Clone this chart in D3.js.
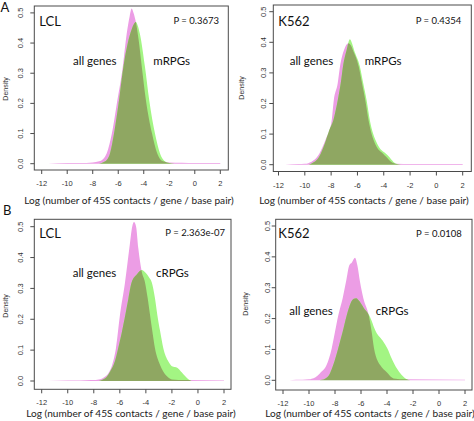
<!DOCTYPE html>
<html><head><meta charset="utf-8">
<script src="https://cdn.jsdelivr.net/npm/d3@7"></script>
<style>
html,body{margin:0;padding:0;background:#fff;}
svg{display:block;}
</style></head>
<body>
<svg id="chart" width="474" height="421"></svg>
<script>
// ---------- DATA ----------
const panelLetters = ["A", "B"];
const cellLines = ["LCL", "K562", "LCL", "K562"];
const pValues = ["P = 0.3673", "P = 0.4354", "P = 2.363e-07", "P = 0.0108"];
const rpgLabels = ["mRPGs", "mRPGs", "cRPGs", "cRPGs"];
const allGenesLabel = "all genes";
const xTicks = [-12, -10, -8, -6, -4, -2, 0, 2];
const yTicks = [0, 0.1, 0.2, 0.3, 0.4, 0.5];
const yTickLabels = ["0.0", "0.1", "0.2", "0.3", "0.4", "0.5"];
const xTitle = "Log (number of 45S contacts / gene / base pair)";
const yTitle = "Density";

// density curves [log value, density]
const allGenesLCL_A = [[-11.5,0],[-10,0.002],[-9,0.002],[-8,0.004],[-7.5,0.008],[-7.2,0.015],[-6.9,0.035],[-6.5,0.10],[-6.07,0.21],[-5.65,0.32],[-5.34,0.43],[-5.1,0.49],[-4.95,0.515],[-4.8,0.50],[-4.62,0.47],[-4.4,0.41],[-4.15,0.32],[-3.83,0.21],[-3.35,0.10],[-2.95,0.035],[-2.5,0.008],[-2,0.004],[-1,0.003],[0,0.002],[2,0.002]];
const mRPGsLCL = [[-7.5,0],[-7.2,0.004],[-6.9,0.012],[-6.64,0.035],[-6.33,0.10],[-5.94,0.21],[-5.6,0.32],[-5.25,0.40],[-4.95,0.445],[-4.75,0.465],[-4.61,0.47],[-4.45,0.455],[-4.3,0.43],[-3.9,0.32],[-3.57,0.21],[-3.12,0.10],[-2.73,0.035],[-2.4,0.01],[-2.0,0.002],[-1.6,0]];
const allGenesK562_A = [[-11.5,0],[-10.5,0.002],[-10,0.003],[-9.73,0.005],[-9.3,0.015],[-8.9,0.036],[-8.44,0.08],[-8.14,0.113],[-7.96,0.144],[-7.8,0.21],[-7.5,0.266],[-7.33,0.32],[-7.02,0.375],[-6.69,0.397],[-6.5,0.39],[-6.35,0.375],[-5.9,0.32],[-5.65,0.266],[-5.4,0.21],[-5.15,0.144],[-4.92,0.10],[-4.65,0.068],[-4.35,0.047],[-4.05,0.036],[-3.8,0.025],[-3.45,0.01],[-3.0,0.003],[-2,0.002],[2,0.002]];
const mRPGsK562 = [[-9.7,0],[-9.48,0.004],[-9.1,0.015],[-8.79,0.036],[-8.39,0.08],[-8.14,0.113],[-7.84,0.144],[-7.5,0.21],[-7.27,0.266],[-7.1,0.32],[-6.82,0.375],[-6.57,0.41],[-6.4,0.395],[-6.26,0.375],[-5.81,0.32],[-5.56,0.266],[-5.3,0.21],[-5.05,0.144],[-4.8,0.10],[-4.49,0.068],[-4.16,0.047],[-3.83,0.036],[-3.58,0.025],[-3.28,0.01],[-3.0,0.002],[-2.7,0]];
const allGenesLCL_B = [[-11.5,0],[-10,0.002],[-9,0.002],[-8.2,0.003],[-7.5,0.006],[-7.2,0.012],[-6.88,0.025],[-6.6,0.05],[-6.3,0.106],[-5.99,0.214],[-5.6,0.32],[-5.27,0.43],[-5.05,0.50],[-4.91,0.515],[-4.75,0.50],[-4.58,0.43],[-4.32,0.355],[-4.07,0.32],[-3.86,0.268],[-3.68,0.214],[-3.5,0.16],[-3.3,0.106],[-2.91,0.052],[-2.4,0.016],[-2.0,0.005],[-1,0.003],[2,0.002]];
const cRPGsLCL = [[-7.6,0],[-7.3,0.005],[-7.0,0.014],[-6.75,0.03],[-6.37,0.065],[-6.05,0.12],[-5.86,0.155],[-5.58,0.214],[-5.35,0.265],[-5.09,0.32],[-4.7,0.345],[-4.32,0.36],[-4.0,0.35],[-3.75,0.335],[-3.55,0.32],[-3.3,0.268],[-3.12,0.214],[-2.9,0.16],[-2.66,0.106],[-2.27,0.063],[-2.0,0.048],[-1.76,0.045],[-1.5,0.04],[-1.25,0.028],[-0.99,0.016],[-0.74,0.006],[-0.5,0]];
const allGenesK562_B = [[-11.5,0],[-11,0.002],[-10.5,0.002],[-10,0.003],[-9.8,0.005],[-9.5,0.01],[-9.15,0.023],[-8.64,0.05],[-8.25,0.104],[-8.0,0.157],[-7.75,0.21],[-7.41,0.266],[-7.15,0.32],[-6.9,0.373],[-6.7,0.382],[-6.46,0.397],[-6.28,0.373],[-6.08,0.32],[-5.82,0.266],[-5.4,0.21],[-5.18,0.157],[-5.0,0.104],[-4.75,0.066],[-4.54,0.05],[-4.0,0.025],[-3.5,0.006],[-2.5,0.003],[2,0.002]];
const cRPGsK562 = [[-9.2,0],[-8.77,0.005],[-8.38,0.023],[-8.13,0.05],[-7.75,0.104],[-7.41,0.157],[-7.1,0.21],[-6.8,0.25],[-6.55,0.264],[-6.38,0.266],[-6.1,0.255],[-5.8,0.235],[-5.36,0.21],[-4.85,0.157],[-4.28,0.125],[-3.98,0.104],[-3.64,0.071],[-3.25,0.039],[-2.87,0.017],[-2.48,0.003],[-2.2,0]];

const allGenesSeries = [allGenesLCL_A, allGenesK562_A, allGenesLCL_B, allGenesK562_B];
const rpgSeries = [mRPGsLCL, mRPGsK562, cRPGsLCL, cRPGsK562];

// ---------- LAYOUT ----------
const layout = [
  {x12:41.7, x2:220.3, y0:163.7, y5:12.9, box:[34.3,6,228.3,170], yLabX:20, dens:[5,89], titleY:204, titleX:129},
  {x12:278.5, x2:462.7, y0:164.7, y5:11.7, box:[273.3,5,471.3,171.5], yLabX:263.5, dens:[241.3,88], titleY:204, titleX:364},
  {x12:41.7, x2:224, y0:381, y5:226.7, box:[34.3,219.3,231,389.3], yLabX:20, dens:[5,306], titleY:417, titleX:131},
  {x12:283, x2:465, y0:380.3, y5:226, box:[275.7,219.3,472,390], yLabX:267.3, dens:[245.7,304], titleY:417, titleX:370}
];
const textPos = [
  {cell:[39.3,26], p:[219,24], ag:[73,64.5], rpg:[153.3,64.5]},
  {cell:[278.3,26], p:[461.3,24], ag:[289.7,65], rpg:[364.7,65]},
  {cell:[39.3,238], p:[225,236], ag:[72.7,276.7], rpg:[156,276.7]},
  {cell:[278.3,237.7], p:[461.7,236.7], ag:[289.3,315], rpg:[375.7,315]}
];
const letterPos = [[0.5,11.5],[3,215]];

const COL_PINK = "#EC9DE5", COL_GREEN = "#A3F583", COL_OLIVE = "#8FA762", COL_AX = "#4a4a4a";
const labelFont = "Lato, 'Open Sans', sans-serif";
const tickFont = "'Liberation Sans', Arial, sans-serif";

const svg = d3.select("#chart");

layout.forEach((L, i) => {
  const x = d3.scaleLinear().domain([-12, 2]).range([L.x12, L.x2]);
  const y = d3.scaleLinear().domain([0, 0.5]).range([L.y0, L.y5]);
  const [bl, bt, br, bb] = L.box;
  const g = svg.append("g");

  const defs = g.append("defs");
  defs.append("clipPath").attr("id", "box" + i)
    .append("rect").attr("x", bl).attr("y", bt).attr("width", br - bl).attr("height", bb - bt);

  const area = d3.area().x(d => x(d[0])).y0(y(0)).y1(d => y(d[1])).curve(d3.curveMonotoneX);
  defs.append("clipPath").attr("id", "pink" + i)
    .append("path").attr("d", area(allGenesSeries[i]));

  const plot = g.append("g").attr("clip-path", `url(#box${i})`);
  plot.append("path").attr("d", area(allGenesSeries[i])).attr("fill", COL_PINK);
  plot.append("path").attr("d", area(rpgSeries[i])).attr("fill", COL_GREEN);
  plot.append("g").attr("clip-path", `url(#pink${i})`)
    .append("path").attr("d", area(rpgSeries[i])).attr("fill", COL_OLIVE);

  // box
  g.append("rect").attr("x", bl).attr("y", bt).attr("width", br - bl).attr("height", bb - bt)
    .attr("fill", "none").attr("stroke", COL_AX).attr("stroke-width", 1);

  // x ticks
  xTicks.forEach(t => {
    g.append("line").attr("x1", x(t)).attr("x2", x(t)).attr("y1", bb).attr("y2", bb + 4)
      .attr("stroke", COL_AX).attr("stroke-width", 1);
    g.append("text").attr("x", x(t)).attr("y", bb + 16).attr("text-anchor", "middle")
      .attr("font-family", tickFont).attr("font-size", 7.5).attr("fill", "#333").text(t);
  });
  // y ticks
  yTicks.forEach((t, k) => {
    g.append("line").attr("x1", bl - 4).attr("x2", bl).attr("y1", y(t)).attr("y2", y(t))
      .attr("stroke", COL_AX).attr("stroke-width", 1);
    g.append("text").attr("transform", `translate(${L.yLabX + 2.5},${y(t)}) rotate(-90)`)
      .attr("text-anchor", "middle").attr("font-family", tickFont).attr("font-size", 7.5)
      .attr("fill", "#333").text(yTickLabels[k]);
  });
  // axis titles
  g.append("text").attr("x", L.titleX).attr("y", L.titleY).attr("text-anchor", "middle")
    .attr("font-family", labelFont).attr("font-size", 10.1).attr("fill", "#222").text(xTitle);
  g.append("text").attr("transform", `translate(${L.dens[0] + 2.5},${L.dens[1]}) rotate(-90)`)
    .attr("text-anchor", "middle").attr("font-family", tickFont).attr("font-size", 7)
    .attr("fill", "#333").text(yTitle);

  const T = textPos[i];
  g.append("text").attr("x", T.cell[0]).attr("y", T.cell[1]).attr("font-family", labelFont)
    .attr("font-size", 13).attr("fill", "#111").text(cellLines[i]);
  g.append("text").attr("x", T.p[0]).attr("y", T.p[1]).attr("text-anchor", "end")
    .attr("font-family", labelFont).attr("font-size", 9.5).attr("fill", "#111").text(pValues[i]);
  g.append("text").attr("x", T.ag[0]).attr("y", T.ag[1]).attr("font-family", labelFont)
    .attr("font-size", 11.5).attr("fill", "#111").text(allGenesLabel);
  g.append("text").attr("x", T.rpg[0]).attr("y", T.rpg[1]).attr("font-family", labelFont)
    .attr("font-size", 11.5).attr("fill", "#111").text(rpgLabels[i]);
});

panelLetters.forEach((l, k) => {
  svg.append("text").attr("x", letterPos[k][0]).attr("y", letterPos[k][1])
    .attr("font-family", labelFont).attr("font-size", 13).attr("fill", "#111").text(l);
});
</script>
</body></html>
